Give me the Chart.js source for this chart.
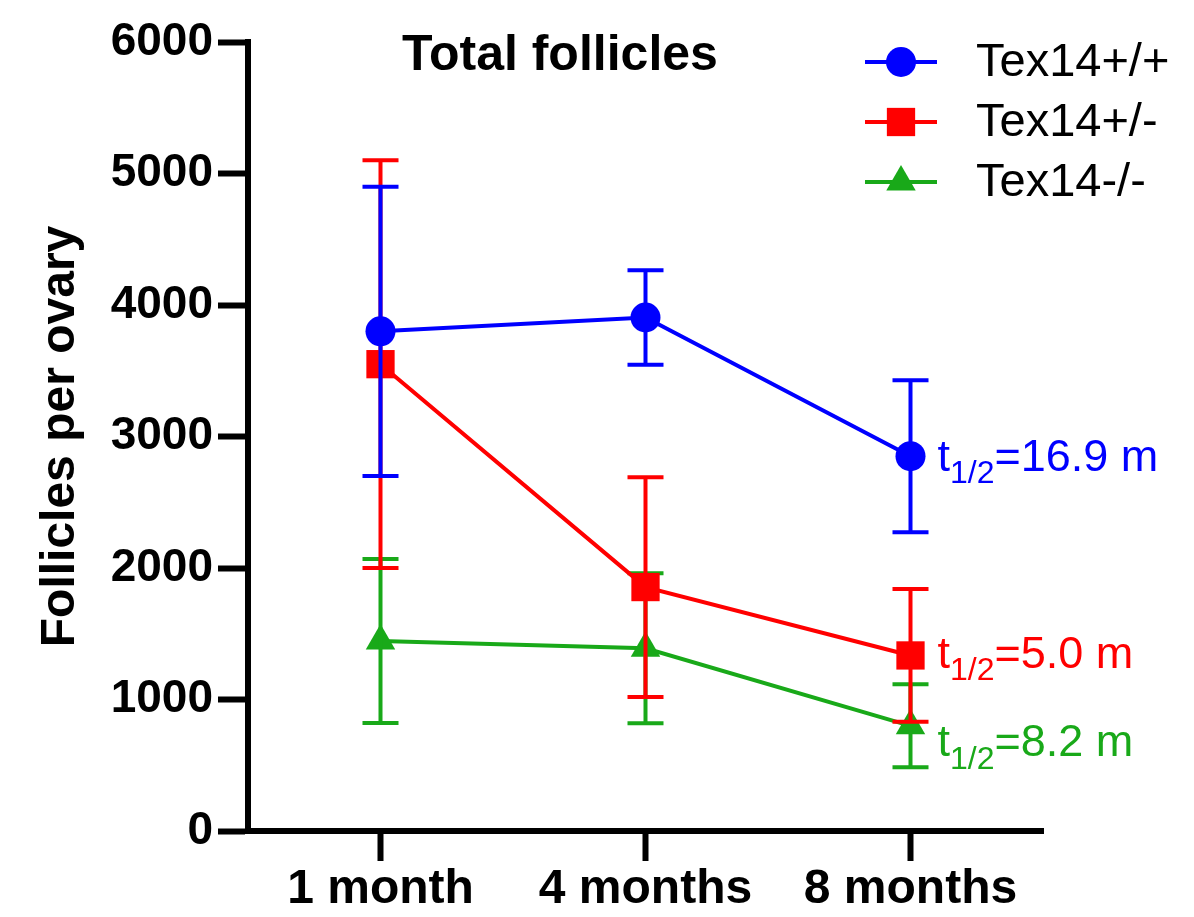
<!DOCTYPE html>
<html lang="en">
<head>
    <meta charset="UTF-8">
    <title>Total follicles</title>
    <script src="https://cdn.jsdelivr.net/npm/chart.js"></script>
    <style>
        html, body {
            margin: 0;
            padding: 0;
            background-color: #ffffff;
        }
        .contenedorGrafica {
            width: 1194px;
            height: 917px;
        }
    </style>
</head>
<body>
    <div class="contenedorGrafica">
        <canvas id="folliclesChart"></canvas>
    </div>

    <script>
        // datos
        const categorias = ['1 month', '4 months', '8 months'];
        const ticksY = [0, 1000, 2000, 3000, 4000, 5000, 6000];
        const etiquetas = ['Tex14+/+', 'Tex14+/-', 'Tex14-/-'];

        const mediaWT = [3800, 3905, 2850];
        const errorWT = [1100, 360, 578];
        const mediaHet = [3550, 1855, 1335];
        const errorHet = [1550, 836, 505];
        const mediaKO = [1445, 1390, 800];
        const errorKO = [624, 570, 316];

        const vidaMedia = ['16.9', '5.0', '8.2'];

        const colores = ['#0000ff', '#ff0000', '#19a919'];
        const estilos = ['circle', 'rect', 'triangle'];
        const radios = [15, 20, 17];
        const fuente = "'Liberation Sans', Arial, sans-serif";

        // barras de error dibujadas con la escala y
        const barrasError = {
            id: 'barrasError',
            afterDatasetDraw(chart, args) {
                const ds = chart.data.datasets[args.index];
                const escalaY = chart.scales.y;
                const ctx = chart.ctx;
                ctx.save();
                ctx.strokeStyle = ds.borderColor;
                ctx.lineWidth = 4;
                args.meta.data.forEach((punto, i) => {
                    const arriba = escalaY.getPixelForValue(ds.data[i] + ds.errores[i]);
                    const abajo = escalaY.getPixelForValue(ds.data[i] - ds.errores[i]);
                    ctx.beginPath();
                    ctx.moveTo(punto.x, arriba);
                    ctx.lineTo(punto.x, abajo);
                    ctx.moveTo(punto.x - 18, arriba);
                    ctx.lineTo(punto.x + 18, arriba);
                    ctx.moveTo(punto.x - 18, abajo);
                    ctx.lineTo(punto.x + 18, abajo);
                    ctx.stroke();
                });
                ctx.restore();
            }
        };

        // titulo, leyenda y textos de vida media
        const textos = {
            id: 'textos',
            afterDraw(chart) {
                const ctx = chart.ctx;
                ctx.save();

                ctx.fillStyle = '#000';
                ctx.textAlign = 'center';
                ctx.textBaseline = 'middle';
                ctx.font = 'bold 50px ' + fuente;
                ctx.fillText('Total follicles', 560, 56);

                chart.data.datasets.forEach((ds, i) => {
                    const y = 62 + i * 60;
                    ctx.strokeStyle = ds.borderColor;
                    ctx.lineWidth = 4;
                    ctx.beginPath();
                    ctx.moveTo(865, y);
                    ctx.lineTo(937, y);
                    ctx.stroke();
                    ctx.fillStyle = ds.borderColor;
                    Chart.helpers.drawPoint(ctx, {
                        pointStyle: ds.pointStyle,
                        radius: ds.pointRadius,
                        rotation: 0,
                        borderWidth: 0
                    }, 901, y);
                    ctx.fillStyle = '#000';
                    ctx.textAlign = 'left';
                    ctx.font = '47px ' + fuente;
                    ctx.fillText(ds.label, 976, y + 1);
                });

                const desplazamiento = [2, 0, 18];
                chart.data.datasets.forEach((ds, i) => {
                    const meta = chart.getDatasetMeta(i);
                    const ultimo = meta.data[meta.data.length - 1];
                    let x = ultimo.x + 27;
                    const y = ultimo.y + desplazamiento[i];
                    ctx.fillStyle = ds.borderColor;
                    ctx.textAlign = 'left';
                    ctx.textBaseline = 'middle';
                    ctx.font = '45px ' + fuente;
                    ctx.fillText('t', x, y);
                    x += ctx.measureText('t').width;
                    ctx.font = '32px ' + fuente;
                    ctx.fillText('1/2', x, y + 16);
                    x += ctx.measureText('1/2').width;
                    ctx.font = '45px ' + fuente;
                    ctx.fillText('=' + vidaMedia[i] + ' m', x, y);
                });

                ctx.restore();
            }
        };

        function crearSerie(i, datos, errores) {
            return {
                label: etiquetas[i],
                data: datos,
                errores: errores,
                borderColor: colores[i],
                backgroundColor: colores[i],
                borderWidth: 4,
                pointStyle: estilos[i],
                pointRadius: radios[i],
                pointBorderWidth: 0,
                tension: 0
            };
        }

        document.addEventListener('DOMContentLoaded', function () {
            const ctx = document.getElementById('folliclesChart').getContext('2d');
            new Chart(ctx, {
                type: 'line',
                data: {
                    labels: categorias,
                    datasets: [
                        crearSerie(0, mediaWT, errorWT),
                        crearSerie(1, mediaHet, errorHet),
                        crearSerie(2, mediaKO, errorKO)
                    ]
                },
                options: {
                    responsive: true,
                    maintainAspectRatio: false,
                    animation: false,
                    layout: { padding: { top: 42, right: 151, bottom: 0, left: 0 } },
                    plugins: {
                        legend: { display: false },
                        tooltip: { enabled: false }
                    },
                    scales: {
                        x: {
                            offset: true,
                            ticks: {
                                color: '#000',
                                font: { family: fuente, size: 48, weight: 'bold' },
                                padding: 0,
                                maxRotation: 0,
                                autoSkip: false
                            },
                            grid: {
                                drawOnChartArea: false,
                                offset: false,
                                tickLength: 30,
                                tickWidth: 6,
                                color: '#000'
                            },
                            border: { color: '#000', width: 6 },
                            afterFit(scale) { scale.height = 86; }
                        },
                        y: {
                            min: 0,
                            max: 6000,
                            afterBuildTicks(scale) {
                                scale.ticks = ticksY.map(v => ({ value: v }));
                            },
                            ticks: {
                                color: '#000',
                                font: { family: fuente, size: 46, weight: 'bold' },
                                padding: 5,
                                callback: v => String(v)
                            },
                            grid: {
                                drawOnChartArea: false,
                                tickLength: 30,
                                tickWidth: 6,
                                color: '#000'
                            },
                            border: { color: '#000', width: 6 },
                            title: {
                                display: true,
                                text: 'Follicles per ovary',
                                color: '#000',
                                font: { family: fuente, size: 48, weight: 'bold' },
                                padding: { top: 32, bottom: 0 }
                            },
                            afterFit(scale) { scale.width = 248; }
                        }
                    }
                },
                plugins: [barrasError, textos]
            });
        });
    </script>
</body>
</html>
